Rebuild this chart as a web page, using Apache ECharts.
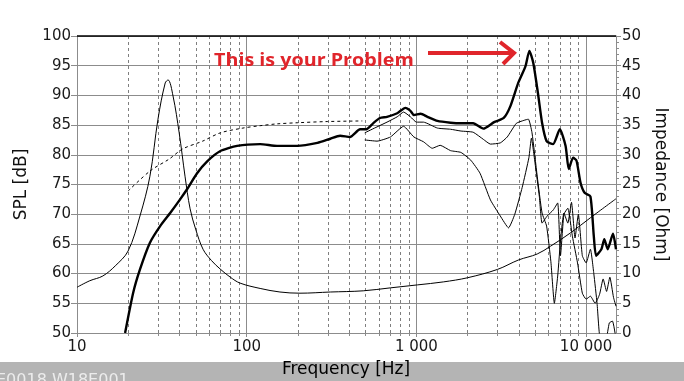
<!DOCTYPE html>
<html>
<head>
<meta charset="utf-8">
<script src="https://cdn.jsdelivr.net/npm/echarts@6/dist/echarts.min.js"></script>
<style>
html,body{margin:0;padding:0;background:#fff;}
#chart{width:684px;height:381px;}
</style>
</head>
<body>
<div id="chart"></div>
<script>
// ---- DATA ----
var xTickLabels = {10: '10', 100: '100', 1000: '1 000', 10000: '10 000'};
var minorFreqs = [20, 30, 40, 50, 60, 70, 80, 90, 200, 300, 400, 500, 600, 700, 800, 900, 2000, 3000, 4000, 5000, 6000, 7000, 8000, 9000];

// Impedance (Ohm, right axis)
var impFreq = [10, 11.9, 14.2, 16.8, 20, 23.5, 26.9, 30, 33.1, 34.4, 36.8, 40, 43.3, 46.4, 50, 55.3, 62, 69.6, 80, 91.4, 120, 157, 206, 311, 486, 703, 1015, 1440, 2000, 3000, 4000, 5150, 6160, 8040, 10600, 15000];
var impOhm  = [7.7, 8.8, 9.6, 11.3, 13.8, 19.7, 26.4, 36.0, 42.1, 42.6, 39.9, 33.7, 26.4, 20.9, 17.5, 14.1, 12.2, 10.8, 9.4, 8.4, 7.5, 6.9, 6.7, 6.9, 7.1, 7.6, 8.1, 8.6, 9.3, 10.7, 12.3, 13.3, 14.6, 16.8, 19.4, 22.6];

// Near-field / simulated response (dashed, dB)
var nearFreq = [20, 27, 35, 42, 55, 70, 95, 120, 150, 200, 300, 480];
var nearSpl  = [73.9, 77.3, 79.3, 81.0, 82.3, 83.7, 84.5, 84.9, 85.2, 85.4, 85.6, 85.7];

// On-axis SPL (thick, dB)
var mainFreq = [19.2, 21.4, 23.5, 26.9, 30.9, 35.4, 40.5, 44.5, 51, 58.5, 69.6, 87.8, 120, 151, 198, 261, 311, 355, 406, 466, 507, 556, 610, 671, 771, 861, 922, 966, 1060, 1160, 1330, 1590, 1830, 2160, 2480, 2870, 3270, 3580, 3980, 4390, 4630, 4880, 5200, 5500, 5850, 6390, 7000, 7570, 7900, 8380, 8780, 9270, 9800, 10600, 11100, 11450, 12300, 12800, 13400, 14400, 15000];
var mainSpl  = [50, 56.7, 60.7, 65.2, 68.0, 70.2, 72.5, 74.2, 76.9, 78.9, 80.6, 81.5, 81.8, 81.5, 81.5, 82.0, 82.7, 83.2, 83.0, 84.3, 84.3, 85.3, 86.2, 86.4, 87.0, 87.9, 87.4, 86.7, 86.9, 86.4, 85.7, 85.4, 85.3, 85.3, 84.4, 85.5, 86.2, 88.2, 92.1, 94.9, 97.5, 95.5, 90.4, 85.4, 82.3, 81.8, 84.3, 81.5, 77.6, 79.5, 79.0, 75.3, 73.6, 73.0, 66.3, 63.0, 64.1, 65.8, 64.1, 66.7, 64.1];

// 30 degree off-axis (thin, dB)
var off30Freq = [496, 586, 671, 771, 840, 922, 1000, 1100, 1330, 1590, 1830, 2160, 2480, 2730, 3120, 3430, 3880, 4300, 4570, 4800, 5150, 5500, 5850, 6200, 6500, 6800, 7100, 7400, 7800, 8200, 8600, 9000, 9500, 10000, 10600, 11100, 11600, 12100, 12600, 13100, 13700, 14300, 15000];
var off30Spl  = [83.7, 84.7, 85.5, 86.4, 87.2, 86.4, 85.5, 85.5, 84.5, 84.3, 84.0, 83.8, 82.6, 81.8, 82.0, 83.0, 85.3, 85.8, 86.0, 83.7, 76.4, 70.2, 68.0, 62.0, 55.0, 59.6, 66.3, 70.2, 68.5, 72.0, 66.0, 70.0, 63.0, 61.8, 64.1, 60.0, 55.0, 49.0, 49.0, 49.0, 51.7, 52.0, 49.0];

// 60 degree off-axis (thin, dB)
var off60Freq = [496, 586, 703, 840, 966, 1100, 1240, 1380, 1590, 1830, 2090, 2370, 2730, 3120, 3490, 3800, 4200, 4600, 4760, 5000, 5300, 5500, 5900, 6400, 6800, 7060, 7400, 7800, 8300, 8900, 9500, 10000, 10600, 11300, 12000, 12600, 13200, 13800, 14500, 15000];
var off60Spl  = [82.5, 82.3, 83.0, 84.8, 83.0, 82.2, 81.1, 81.6, 80.7, 80.4, 79.1, 76.9, 72.4, 69.7, 67.7, 70.0, 74.5, 79.5, 82.8, 78.6, 73.0, 68.5, 69.7, 70.7, 71.9, 63.0, 70.0, 71.0, 66.3, 61.8, 56.7, 55.7, 56.2, 55.0, 56.5, 59.1, 57.0, 59.4, 56.0, 54.5];

function pairs(xs, ys) { return xs.map(function (x, i) { return [x, ys[i]]; }); }

var FONT = 'DejaVu Sans';
var GRID = '#8c8c8c';

var chart = echarts.init(document.getElementById('chart'), null, {renderer: 'canvas'});

var option = {
  animation: false,
  backgroundColor: '#ffffff',
  grid: {left: 77, right: 68, top: 36, bottom: 48, containLabel: false},
  xAxis: {
    type: 'log', logBase: 10, min: 10, max: 15000,
    axisLine: {show: true, lineStyle: {color: GRID, width: 1}},
    axisTick: {show: true, length: 4, lineStyle: {color: GRID}},
    splitLine: {show: true, lineStyle: {color: GRID, width: 1}},
    axisLabel: {
      show: true, margin: 7, color: '#1a1a1a', fontFamily: FONT, fontSize: 15,
      showMaxLabel: false,
      formatter: function (v) { return xTickLabels[Math.round(v)] || ''; }
    }
  },
  yAxis: [
    {
      type: 'value', min: 50, max: 100, interval: 5, position: 'left',
      name: 'SPL [dB]', nameLocation: 'middle', nameGap: 47, nameRotate: 90,
      nameTextStyle: {fontFamily: FONT, fontSize: 17, color: '#111'},
      axisLine: {show: true, lineStyle: {color: GRID}},
      axisTick: {show: true, length: 6, lineStyle: {color: GRID}},
      splitLine: {show: true, lineStyle: {color: GRID, width: 1}},
      axisLabel: {margin: 6, color: '#1a1a1a', fontFamily: FONT, fontSize: 15}
    },
    {
      type: 'value', min: 0, max: 50, interval: 5, position: 'right',
      name: 'Impedance [Ohm]', nameLocation: 'middle', nameGap: 33, nameRotate: -90,
      nameTextStyle: {fontFamily: FONT, fontSize: 17, color: '#111'},
      axisLine: {show: true, lineStyle: {color: GRID}},
      axisTick: {show: true, length: 5, lineStyle: {color: GRID}},
      minorTick: {show: true, splitNumber: 5, length: 3, lineStyle: {color: GRID}},
      splitLine: {show: false},
      axisLabel: {margin: 6, color: '#1a1a1a', fontFamily: FONT, fontSize: 15}
    }
  ],
  graphic: [
    {type: 'rect', z: 0, shape: {x: 0, y: 362, width: 684, height: 19}, style: {fill: '#b4b4b4'}},
    {type: 'text', z: 1, x: 346, y: 370, style: {text: 'Frequency [Hz]', fontFamily: FONT, fontSize: 17, fill: '#000', textAlign: 'center', textVerticalAlign: 'middle'}},
    {type: 'text', z: 1, x: -4, y: 373, style: {text: 'E0018 W18E001', fontFamily: FONT, fontSize: 16, fill: '#ececec', textAlign: 'left', textVerticalAlign: 'top'}},
    {type: 'text', z: 10, x: 214, y: 61, scaleX: 1.16, style: {text: 'This is your Problem', fontFamily: 'Open Sans', fontWeight: 'bold', fontSize: 17, fill: '#e0252b', textAlign: 'left', textVerticalAlign: 'middle'}},
    {type: 'polyline', z: 10, shape: {points: [[428, 53], [511, 53]]}, style: {stroke: '#e0252b', lineWidth: 4, fill: null}},
    {type: 'polyline', z: 10, shape: {points: [[500, 42], [514, 53], [503, 64]]}, style: {stroke: '#e0252b', lineWidth: 4, fill: null, lineJoin: 'miter'}}
  ],
  series: [
    {
      type: 'custom', name: 'minorGrid', xAxisIndex: 0, yAxisIndex: 0, silent: true, z: 1,
      data: minorFreqs.map(function (f) { return [f, 50]; }),
      encode: {x: 0, y: 1},
      renderItem: function (params, api) {
        var top = api.coord([api.value(0), 100]);
        var bot = api.coord([api.value(0), 50]);
        var x = Math.round(top[0]) + 0.5;
        return {
          type: 'group',
          children: [
            {type: 'line', shape: {x1: x, y1: top[1], x2: x, y2: bot[1]}, style: {stroke: '#7f7f7f', lineWidth: 1, lineDash: [3, 3]}},
            {type: 'line', shape: {x1: x, y1: bot[1], x2: x, y2: bot[1] + 3}, style: {stroke: GRID, lineWidth: 1}}
          ]
        };
      }
    },
    {
      type: 'line', name: 'Impedance', yAxisIndex: 1, data: pairs(impFreq, impOhm),
      symbol: 'none', smooth: 0.35, lineStyle: {color: '#000', width: 1}, z: 3
    },
    {
      type: 'line', name: 'Near field', yAxisIndex: 0, data: pairs(nearFreq, nearSpl),
      symbol: 'none', smooth: 0.3, lineStyle: {color: '#000', width: 1, type: [3, 3]}, z: 3
    },
    {
      type: 'line', name: '60°', yAxisIndex: 0, data: pairs(off60Freq, off60Spl),
      symbol: 'none', smooth: 0.15, lineStyle: {color: '#000', width: 1}, z: 3
    },
    {
      type: 'line', name: '30°', yAxisIndex: 0, data: pairs(off30Freq, off30Spl),
      symbol: 'none', smooth: 0.15, lineStyle: {color: '#000', width: 1}, z: 3
    },
    {
      type: 'line', name: 'On axis', yAxisIndex: 0, data: pairs(mainFreq, mainSpl),
      symbol: 'none', smooth: 0.2, lineStyle: {color: '#000', width: 2.4}, z: 4,
      markLine: {
        silent: true, symbol: 'none', label: {show: false},
        lineStyle: {color: '#000', width: 1.5, type: 'solid'},
        data: [{yAxis: 100}]
      }
    }
  ]
};
chart.setOption(option);
</script>
</body>
</html>
